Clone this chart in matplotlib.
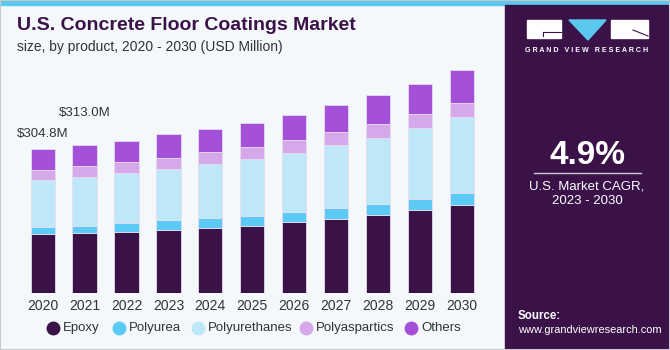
import numpy as np
import matplotlib.pyplot as plt
from matplotlib.patches import Rectangle, Polygon
from matplotlib.lines import Line2D
from matplotlib.colors import LinearSegmentedColormap

plt.rcParams['font.family'] = ['Liberation Sans', 'DejaVu Sans']

# Data (USD Million)
years = ['2020', '2021', '2022', '2023', '2024', '2025', '2026', '2027', '2028', '2029', '2030']
epoxy = [124.0, 127.0, 130.0, 132.5, 137.3, 142.0, 150.0, 155.5, 164.0, 174.5, 185.0]
polyurea = [16.0, 15.4, 18.3, 21.0, 20.4, 20.4, 21.0, 24.4, 23.1, 24.4, 26.5]
polyurethanes = [98.2, 102.0, 104.0, 108.5, 113.5, 119.8, 124.0, 131.8, 140.8, 149.2, 159.0]
polyaspartics = [20.4, 23.2, 23.2, 23.1, 25.2, 25.9, 26.7, 27.3, 29.4, 30.3, 30.9]
others = [46.2, 45.4, 45.6, 49.2, 49.6, 51.3, 53.2, 58.2, 61.0, 63.0, 69.4]
label_text = ['$304.8M', '$313.0M']

series = ['Epoxy', 'Polyurea', 'Polyurethanes', 'Polyaspartics', 'Others']
values = [epoxy, polyurea, polyurethanes, polyaspartics, others]
colors = ['#3a1248', '#5bcbf5', '#bee8f8', '#d5a8ea', '#a550d8']

W, H = 670, 350
fig = plt.figure(figsize=(6.7, 3.5), dpi=100)
fig.patch.set_facecolor('#f4f8fb')


def fx(x):
    return x / W


def fy(y):
    return 1 - y / H


# frame and top stripe
fig.patches.append(Rectangle((0, fy(5)), 1, 5 / H, transform=fig.transFigure,
                             color='#5bc8f0', zorder=0))
fig.patches.append(Rectangle((0, 0), 1, 1, transform=fig.transFigure, fill=False,
                             edgecolor='#c8c8c8', lw=1.5, zorder=5))

# right panel
px0 = fx(505)
fig.patches.append(Rectangle((px0, 0), 1 - px0, fy(5), transform=fig.transFigure,
                             color='#3a1248', zorder=0))
gax = fig.add_axes([px0, 2 / H, 1 - px0, 90 / H])
grad = np.linspace(0, 1, 100).reshape(-1, 1)
cmap = LinearSegmentedColormap.from_list('g', ['#3a1248', '#3c3a78', '#4f82b8', '#63a6d8'])
gax.imshow(grad ** 1.3, aspect='auto', cmap=cmap, origin='upper', extent=[0, 1, 0, 1])
for xx in np.linspace(-0.5, 1.5, 18):
    gax.plot([0.5, xx], [0.75, 0], color='white', alpha=0.08, lw=0.6)
for yy in [0.1, 0.22, 0.36, 0.5, 0.62]:
    gax.plot([0, 1], [yy, yy], color='white', alpha=0.08, lw=0.6)
gax.set_xlim(0, 1)
gax.set_ylim(0, 1)
gax.axis('off')

# logo
fig.patches.append(Rectangle((fx(527), fy(38)), fx(34), 18 / H, transform=fig.transFigure,
                             color='white', zorder=2))
fig.patches.append(Rectangle((fx(611), fy(38)), fx(37), 18 / H, transform=fig.transFigure,
                             color='white', zorder=2))
fig.patches.append(Polygon([(fx(569), fy(20)), (fx(606), fy(20)), (fx(588), fy(40))],
                           closed=True, transform=fig.transFigure, color='#5bc8f0', zorder=2))
fig.lines.append(Line2D([fx(543), fx(561)], [fy(32), fy(32)], transform=fig.transFigure,
                        color='#3a1248', lw=0.8, zorder=3))
fig.lines.append(Line2D([fx(543), fx(543)], [fy(32), fy(36)], transform=fig.transFigure,
                        color='#3a1248', lw=0.8, zorder=3))
fig.lines.append(Line2D([fx(633), fx(648)], [fy(30), fy(36)], transform=fig.transFigure,
                        color='#3a1248', lw=0.8, zorder=3))
fig.text(fx(587), fy(51), 'G R A N D   V I E W   R E S E A R C H', color='white',
         fontsize=5.1, fontweight='bold', ha='center', va='center')

fig.text(fx(587), fy(156), '4.9%', color='white', fontsize=24, fontweight='bold',
         ha='center', va='center')
fig.lines.append(Line2D([fx(534), fx(641)], [fy(173), fy(173)], transform=fig.transFigure,
                        color='#d0c8d8', lw=1))
fig.text(fx(587), fy(186), 'U.S. Market CAGR,', color='white', fontsize=9.5,
         ha='center', va='center')
fig.text(fx(587), fy(201), '2023 - 2030', color='white', fontsize=9.5,
         ha='center', va='center')
fig.text(fx(518), fy(316), 'Source:', color='white', fontsize=8.3, fontweight='bold',
         ha='left', va='center')
fig.text(fx(518), fy(330), 'www.grandviewresearch.com', color='white', fontsize=7.9,
         ha='left', va='center')

# titles
fig.text(fx(17), fy(25), 'U.S. Concrete Floor Coatings Market', color='#3a1248',
         fontsize=14, fontweight='bold', ha='left', va='center')
fig.text(fx(17), fy(47), 'size, by product, 2020 - 2030 (USD Million)', color='#333333',
         fontsize=10, ha='left', va='center')

# bar chart
base = 293.3
top = 60
ax = fig.add_axes([0, fy(base), fx(505), (base - top) / H])
ax.set_facecolor('none')
x = np.arange(len(years))
bottom = np.zeros(len(years))
for name, vals, c in zip(series, values, colors):
    ax.bar(x, vals, 0.58, bottom=bottom, color=c, edgecolor='#e6dcf0', linewidth=0.6,
           label=name, zorder=2)
    bottom += np.array(vals)
label_gap = [17, 53]
for i, txt in enumerate(label_text):
    ax.text(x[i], bottom[i] + label_gap[i], txt, ha='center', va='bottom', fontsize=9.5,
            color='#333333')

ax.set_xlim(-42.7 / 41.9, (505 - 42.7) / 41.9)
ax.set_ylim(0, (base - top) * 2.105)
ax.set_yticks([])
ax.set_xticks(x)
ax.set_xticklabels(years, fontsize=10, color='#333333')
ax.tick_params(axis='x', length=0, pad=4)
for s in ax.spines.values():
    s.set_visible(False)

# legend, laid out like the reference
leg_x = [53, 119, 198, 306, 411]
for lx, name, c in zip(leg_x, series, colors):
    fig.lines.append(Line2D([fx(lx)], [fy(328)], transform=fig.transFigure, marker='o',
                            markersize=9, color=c, ls=''))
    fig.text(fx(lx + 10), fy(328), name, fontsize=9.5, color='#333333', ha='left',
             va='center')

fig.savefig('out.png', dpi=100, facecolor=fig.get_facecolor())
